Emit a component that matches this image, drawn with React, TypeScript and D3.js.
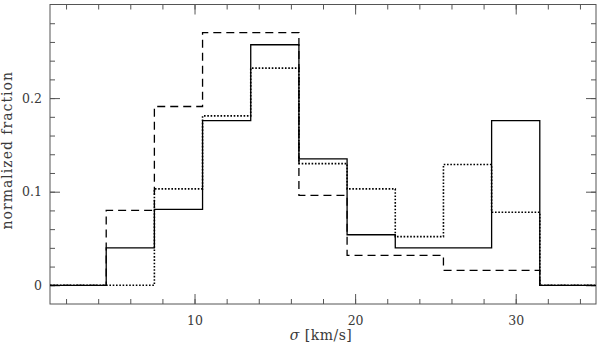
import React, { useEffect, useRef } from "react";
import * as d3 from "d3";

// bin edges (km/s) and fractions per bin for the three histograms
const binEdges = [4.5, 7.5, 10.5, 13.5, 16.5, 19.5, 22.5, 25.5, 28.5, 31.5];
const solidValues = [0.040, 0.081, 0.176, 0.257, 0.135, 0.054, 0.040, 0.040, 0.176];
const dashedValues = [0.080, 0.191, 0.270, 0.270, 0.096, 0.032, 0.032, 0.016, 0.016];
const dottedValues = [0.0, 0.103, 0.181, 0.232, 0.130, 0.103, 0.052, 0.129, 0.078];

const xDomain = [1, 35];
const yDomain = [-0.02, 0.3];
const xMajorTicks = [10, 20, 30];
const xMinorTicks = d3.range(2, 35, 2);
const yMajorTicks = [0, 0.1, 0.2];
const yMinorTicks = d3.range(0, 30, 2).map((d) => d / 100);

const yLabel = "normalized fraction";

export default function App() {
  const ref = useRef<SVGSVGElement>(null);

  useEffect(() => {
    const W = 600, H = 346;
    const margin = { top: 4.5, right: 4, bottom: 42, left: 50 };
    const w = W - margin.left - margin.right;
    const h = H - margin.top - margin.bottom;

    const svg = d3.select(ref.current);
    svg.selectAll("*").remove();
    const g = svg.append("g").attr("transform", `translate(${margin.left},${margin.top})`);

    const x = d3.scaleLinear().domain(xDomain).range([0, w]);
    const y = d3.scaleLinear().domain(yDomain).range([h, 0]);

    const axisColor = "#555";
    const textColor = "#3a3a3a";
    const font = "'DejaVu Serif', serif";

    // helper to draw inward ticks on one side
    const addAxis = (axis: any, transform: string, labels: boolean) => {
      const a = g.append("g").attr("transform", transform).call(axis);
      a.select(".domain").remove();
      a.selectAll("line").attr("stroke", axisColor).attr("stroke-width", 1);
      a.selectAll("text")
        .attr("fill", textColor)
        .style("font-family", font)
        .style("font-size", "12.5px");
      if (!labels) a.selectAll("text").remove();
      return a;
    };

    const fmt = (d: any) => (d === 0 ? "0" : d3.format(".1f")(d));

    // bottom
    addAxis(d3.axisBottom(x).tickValues(xMinorTicks).tickSize(-5), `translate(0,${h})`, false);
    addAxis(d3.axisBottom(x).tickValues(xMajorTicks).tickSize(-10).tickPadding(12), `translate(0,${h})`, true);
    // top
    addAxis(d3.axisTop(x).tickValues(xMinorTicks).tickSize(-5), `translate(0,0)`, false);
    addAxis(d3.axisTop(x).tickValues(xMajorTicks).tickSize(-10), `translate(0,0)`, false);
    // left
    addAxis(d3.axisLeft(y).tickValues(yMinorTicks).tickSize(-5), `translate(0,0)`, false);
    addAxis(d3.axisLeft(y).tickValues(yMajorTicks).tickSize(-10).tickPadding(8).tickFormat(fmt), `translate(0,0)`, true);
    // right
    addAxis(d3.axisRight(y).tickValues(yMinorTicks).tickSize(-5), `translate(${w},0)`, false);
    addAxis(d3.axisRight(y).tickValues(yMajorTicks).tickSize(-10), `translate(${w},0)`, false);

    // frame
    g.append("rect")
      .attr("x", 0).attr("y", 0).attr("width", w).attr("height", h)
      .attr("fill", "none").attr("stroke", axisColor).attr("stroke-width", 1);

    // step lines
    const toPoints = (vals: number[]) => {
      const pts: [number, number][] = [[xDomain[0], 0]];
      vals.forEach((v, i) => pts.push([binEdges[i], v]));
      pts.push([binEdges[binEdges.length - 1], 0]);
      pts.push([xDomain[1], 0]);
      return pts;
    };
    const line = d3.line<[number, number]>()
      .x((d) => x(d[0]))
      .y((d) => y(d[1]))
      .curve(d3.curveStepAfter);

    const series = [
      { vals: dashedValues, dash: "8,5", width: 1.3 },
      { vals: dottedValues, dash: "1.6,1.7", width: 1.6 },
      { vals: solidValues, dash: null, width: 1.3 },
    ];
    g.selectAll(".hist")
      .data(series)
      .join("path")
      .attr("class", "hist")
      .attr("d", (d) => line(toPoints(d.vals)))
      .attr("fill", "none")
      .attr("stroke", "#000")
      .attr("stroke-width", (d) => d.width)
      .attr("stroke-dasharray", (d) => d.dash);

    // axis labels
    g.append("text")
      .attr("x", w / 2 - 2)
      .attr("y", h + 36)
      .attr("text-anchor", "middle")
      .attr("fill", textColor)
      .style("font-family", font)
      .style("font-size", "14px")
      .style("letter-spacing", "0.5px")
      .html(`<tspan font-style="italic">σ</tspan> [km/s]`);

    g.append("text")
      .attr("transform", `translate(${-38},${h / 2 - 4}) rotate(-90)`)
      .attr("text-anchor", "middle")
      .attr("fill", textColor)
      .style("font-family", font)
      .style("font-size", "14px")
      .style("letter-spacing", "1px")
      .text(yLabel);
  }, []);

  return (
    <svg
      ref={ref}
      width={600}
      height={346}
      style={{ position: "absolute", left: 0, top: 0, background: "#fff" }}
    />
  );
}
